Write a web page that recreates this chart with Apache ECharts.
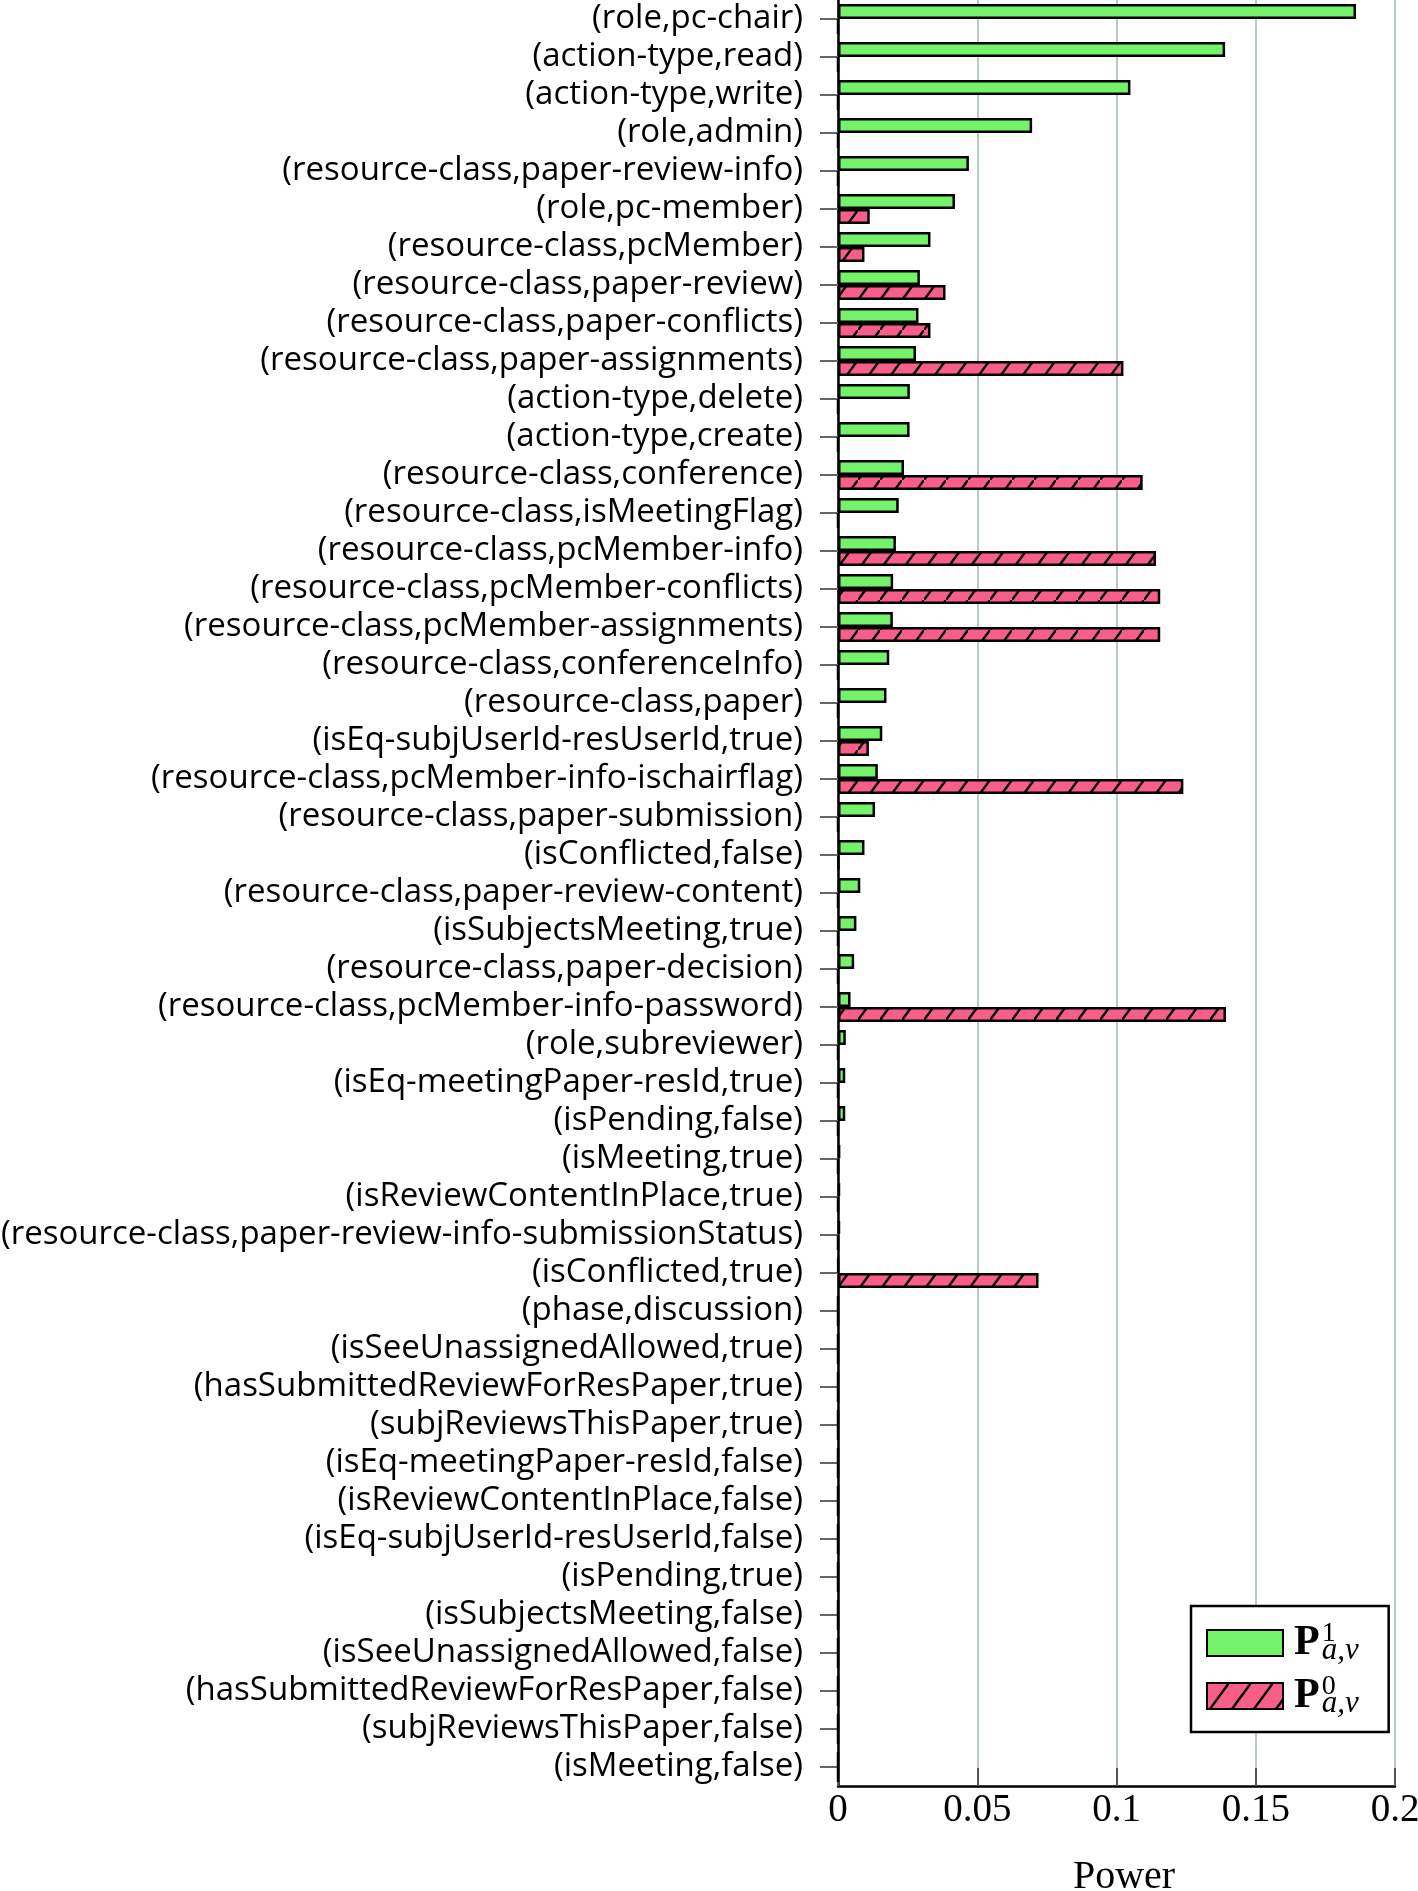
<!DOCTYPE html>
<html><head><meta charset="utf-8">
<script src="https://cdn.jsdelivr.net/npm/echarts@6/dist/echarts.min.js"></script>
<style>html,body{margin:0;padding:0;background:#fff}#c{width:1418px;height:1891px}</style>
</head><body><div id="c"></div>
<script>
const categories = [
 "(role,pc-chair)",
 "(action-type,read)",
 "(action-type,write)",
 "(role,admin)",
 "(resource-class,paper-review-info)",
 "(role,pc-member)",
 "(resource-class,pcMember)",
 "(resource-class,paper-review)",
 "(resource-class,paper-conflicts)",
 "(resource-class,paper-assignments)",
 "(action-type,delete)",
 "(action-type,create)",
 "(resource-class,conference)",
 "(resource-class,isMeetingFlag)",
 "(resource-class,pcMember-info)",
 "(resource-class,pcMember-conflicts)",
 "(resource-class,pcMember-assignments)",
 "(resource-class,conferenceInfo)",
 "(resource-class,paper)",
 "(isEq-subjUserId-resUserId,true)",
 "(resource-class,pcMember-info-ischairflag)",
 "(resource-class,paper-submission)",
 "(isConflicted,false)",
 "(resource-class,paper-review-content)",
 "(isSubjectsMeeting,true)",
 "(resource-class,paper-decision)",
 "(resource-class,pcMember-info-password)",
 "(role,subreviewer)",
 "(isEq-meetingPaper-resId,true)",
 "(isPending,false)",
 "(isMeeting,true)",
 "(isReviewContentInPlace,true)",
 "(resource-class,paper-review-info-submissionStatus)",
 "(isConflicted,true)",
 "(phase,discussion)",
 "(isSeeUnassignedAllowed,true)",
 "(hasSubmittedReviewForResPaper,true)",
 "(subjReviewsThisPaper,true)",
 "(isEq-meetingPaper-resId,false)",
 "(isReviewContentInPlace,false)",
 "(isEq-subjUserId-resUserId,false)",
 "(isPending,true)",
 "(isSubjectsMeeting,false)",
 "(isSeeUnassignedAllowed,false)",
 "(hasSubmittedReviewForResPaper,false)",
 "(subjReviewsThisPaper,false)",
 "(isMeeting,false)"
];
const p1Values = [
 0.186, 0.139, 0.105, 0.0697, 0.047, 0.042, 0.0332, 0.0294, 0.0289, 0.028,
 0.0258, 0.0257, 0.0237, 0.0218, 0.0208, 0.0198, 0.0197, 0.0184, 0.0174, 0.0159,
 0.0143, 0.0133, 0.0095, 0.008, 0.0066, 0.0058, 0.0045, 0.0028, 0.0026, 0.0026,
 0.0008, 0.0007, 0.0007, 0.0001, 0, 0, 0, 0, 0, 0,
 0, 0, 0, 0, 0, 0, 0
];
const p0Values = [
 0, 0, 0, 0, 0, 0.0114, 0.0095, 0.0386, 0.0332, 0.1025,
 0, 0, 0.1094, 0, 0.1142, 0.1157, 0.1157, 0, 0, 0.0111,
 0.124, 0, 0.0003, 0, 0, 0, 0.1393, 0, 0, 0,
 0, 0, 0, 0.072, 0, 0, 0, 0, 0, 0,
 0, 0, 0, 0, 0, 0, 0
];
const seriesNames = ["P1", "P0"];
const legendSup = {"P1": "1", "P0": "0"};
const xTickValues = [0, 0.05, 0.1, 0.15, 0.2];

const GREEN = '#74f36a';
const PINK = '#f75e8a';

function makeHatch() {
  const c = document.createElement('canvas');
  c.width = 22; c.height = 30;
  const g = c.getContext('2d');
  g.fillStyle = PINK; g.fillRect(0, 0, 22, 30);
  g.strokeStyle = '#000'; g.lineWidth = 2.4; g.lineCap = 'butt';
  g.beginPath();
  g.moveTo(-4, 30 + 4 * 30 / 22); g.lineTo(26, -4 * 30 / 22);
  g.stroke();
  return c;
}
const hatch = makeHatch();

const chart = echarts.init(document.getElementById('c'), null, {renderer: 'canvas'});
chart.setOption({
  animation: false,
  backgroundColor: '#fff',
  grid: {left: 838, right: 23, top: 0, bottom: 105, containLabel: false, outerBoundsMode: 'none'},
  legend: {
    left: 1191, top: 1606, orient: 'vertical',
    padding: [14, 30, 13, 15],
    itemWidth: 76, itemHeight: 26, itemGap: 7,
    backgroundColor: '#fff', borderColor: '#000', borderWidth: 2.5, borderRadius: 0,
    icon: 'rect',
    data: seriesNames,
    formatter: function (name) {
      return '{p|P}{sup|' + legendSup[name] + '}{sub|a,v}';
    },
    textStyle: {
      rich: {
        p: {fontFamily: 'Liberation Serif', fontWeight: 'bold', fontSize: 42, lineHeight: 46, color: '#000', padding: [0, 2, 0, 6]},
        sup: {fontFamily: 'Liberation Serif', fontSize: 28, lineHeight: 22, verticalAlign: 'top', color: '#000'},
        sub: {fontFamily: 'Liberation Serif', fontStyle: 'italic', fontSize: 31, lineHeight: 20, verticalAlign: 'bottom', color: '#000', padding: [0, 0, 0, -14]}
      }
    }
  },
  xAxis: {
    type: 'value', min: xTickValues[0], max: xTickValues[xTickValues.length - 1],
    interval: xTickValues[1] - xTickValues[0],
    name: 'Power', nameLocation: 'middle', nameGap: 71,
    nameTextStyle: {fontFamily: 'Liberation Serif', fontSize: 40, color: '#000', padding: [0, 0, 0, 15]},
    axisLine: {show: true, lineStyle: {color: '#000', width: 2.5}},
    axisTick: {show: true, inside: true, length: 18, lineStyle: {color: '#555', width: 2}},
    axisLabel: {margin: 5, fontFamily: 'Liberation Serif', fontSize: 39, color: '#000'},
    splitLine: {show: true, lineStyle: {color: '#b8c8c8', width: 2}}
  },
  yAxis: {
    type: 'category', data: categories, inverse: true,
    axisLine: {show: true, lineStyle: {color: '#000', width: 2.5}},
    axisTick: {show: true, alignWithLabel: true, interval: 0, length: 18, lineStyle: {color: '#666', width: 2}},
    axisLabel: {interval: 0, margin: 35, fontFamily: 'Open Sans', fontSize: 33, color: '#000'},
    splitLine: {show: false}
  },
  series: [
    {name: seriesNames[0], type: 'bar', data: p1Values, barWidth: 15, barGap: '0%', silent: true,
     itemStyle: {color: GREEN, borderColor: '#000', borderWidth: 2.5}},
    {name: seriesNames[1], type: 'bar', data: p0Values, barWidth: 15, barGap: '0%', silent: true,
     itemStyle: {color: {image: hatch, repeat: 'repeat'}, borderColor: '#000', borderWidth: 2.5}}
  ]
});
</script></body></html>
